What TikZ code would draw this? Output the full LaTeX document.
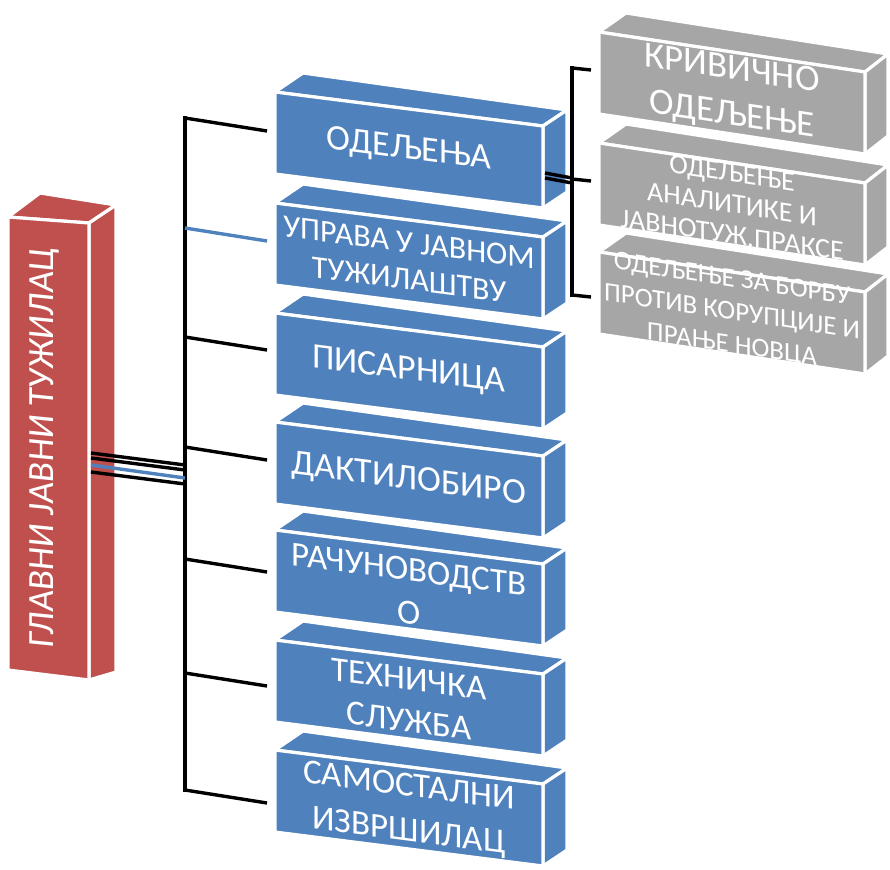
\documentclass[tikz,border=0pt]{standalone}
\usepackage{fontspec}
\setmainfont{Carlito}
\definecolor{cblue}{HTML}{4F81BD}
\definecolor{cred}{HTML}{C0504D}
\definecolor{cgray}{HTML}{A6A6A6}
\newcommand\bluecube[5]{%
\begin{scope}[shift={(0,#1)}]
 \path[face=cblue] (275,0) -- (303,-19) -- (567,18) -- (543,34) -- cycle;
 \path[face=cblue] (543,34) -- (567,18) -- (567,100) -- (543,116) -- cycle;
 \path[face=cblue] (275,0) -- (543,34) -- (543,116) -- (275,82) -- cycle;
 \node[btxt, font=#4] (#2) at (409,#5) {#3};
\end{scope}}
\newcommand\graycube[4]{%
\begin{scope}[shift={(0,#1)}]
 \path[face=cgray] (599,0) -- (626,-19) -- (888,22) -- (865,40) -- cycle;
 \path[face=cgray] (865,40) -- (888,22) -- (888,104) -- (865,122) -- cycle;
 \path[face=cgray] (599,0) -- (865,40) -- (865,122) -- (599,82) -- cycle;
 \node[gtxt, font=#4] (#2) at (732,61) {#3};
\end{scope}}
\begin{document}
\begin{tikzpicture}[x=1pt,y=-1pt,
  face/.style={fill=#1, draw=white, line width=3.2pt, line join=miter},
  btxt/.style={text=white, align=center, yslant=-0.13, inner sep=0pt},
  gtxt/.style={text=white, align=center, yslant=-0.15, inner sep=0pt},
  conn/.style={draw=black, line width=3.4pt},
  bconn/.style={draw=cblue, line width=3.4pt},
]
\useasboundingbox (0,0) rectangle (890,869);
% red box
\path[face=cred] (8,217) -- (40,193) -- (116,205) -- (89,223) -- cycle;
\path[face=cred] (89,223) -- (116,205) -- (116,672) -- (89,680) -- cycle;
\path[face=cred] (8,217) -- (89,223) -- (89,680) -- (8,670) -- cycle;
\node[text=white, font=\fontsize{37}{40}\selectfont, inner sep=0pt, yslant=-0.1, rotate=90] (chief) at (45,448) {ГЛАВНИ ЈАВНИ ТУЖИЛАЦ};
% blue column
\bluecube{92}{b1}{ОДЕЉЕЊА}{\fontsize{36}{40}\selectfont}{58}
\bluecube{203}{b2}{УПРАВА У ЈАВНОМ\\ТУЖИЛАШТВУ}{\fontsize{32}{37}\selectfont}{58}
\bluecube{313}{b3}{ПИСАРНИЦА}{\fontsize{36}{40}\selectfont}{58}
\bluecube{422}{b4}{ДАКТИЛОБИРО}{\fontsize{36}{40}\selectfont}{58}
\bluecube{530}{b5}{РАЧУНОВОДСТВ\\О}{\fontsize{35}{43}\selectfont}{61}
\bluecube{640}{b6}{ТЕХНИЧКА\\СЛУЖБА}{\fontsize{35}{42}\selectfont}{60}
\bluecube{750}{b7}{САМОСТАЛНИ\\ИЗВРШИЛАЦ}{\fontsize{35}{45}\selectfont}{60}
% gray column
\graycube{32}{g1}{КРИВИЧНО\\ОДЕЉЕЊЕ}{\fontsize{37}{46}\selectfont}
\graycube{143}{g2}{ОДЕЉЕЊЕ\\АНАЛИТИКЕ И\\ЈАВНОТУЖ.ПРАКСЕ}{\fontsize{28}{31}\selectfont}
\graycube{252}{g3}{ОДЕЉЕЊЕ ЗА БОРБУ\\ПРОТИВ КОРУПЦИЈЕ И\\ПРАЊЕ НОВЦА}{\fontsize{27}{33}\selectfont}
% coordinates
\coordinate (t0) at (185,118);
\coordinate (t1) at (185,228);
\coordinate (t2) at (185,337);
\coordinate (t3) at (185,447);
\coordinate (t4) at (185,559);
\coordinate (t5) at (185,673);
\coordinate (t6) at (185,790);
\coordinate (e0) at (267,131);
\coordinate (e1) at (267,241);
\coordinate (e2) at (267,350);
\coordinate (e3) at (267,460);
\coordinate (e4) at (267,572);
\coordinate (e5) at (267,686);
\coordinate (e6) at (267,803);
\coordinate (rA) at (91,453); \coordinate (hA) at (185,465);
\coordinate (rB) at (91,458); \coordinate (hB) at (185,470);
\coordinate (rC) at (91,465); \coordinate (hC) at (185,478);
\coordinate (rD) at (91,472); \coordinate (hD) at (185,484);
\coordinate (s0) at (572,68);
\coordinate (s1) at (572,179);
\coordinate (s2) at (572,295);
\coordinate (f0) at (591,70);
\coordinate (f1) at (591,181);
\coordinate (f2) at (591,297);
\coordinate (oA) at (545,173); \coordinate (qA) at (572,178);
\coordinate (oB) at (545,178); \coordinate (qB) at (572,183);
% connectors
\draw[conn, line cap=rect] (t0) -- (t6);
\draw[conn] (t0) -- (e0);
\draw[bconn] (t1) -- (e1);
\draw[conn] (t2) -- (e2);
\draw[conn] (t3) -- (e3);
\draw[conn] (t4) -- (e4);
\draw[conn] (t5) -- (e5);
\draw[conn] (t6) -- (e6);
\draw[conn] (rA) -- (hA);
\draw[conn] (rB) -- (hB);
\draw[bconn] (rC) -- (hC);
\draw[conn] (rD) -- (hD);
\draw[conn, line cap=rect] (s0) -- (s2);
\draw[conn] (s0) -- (f0);
\draw[conn] (s1) -- (f1);
\draw[conn] (s2) -- (f2);
\draw[conn] (oA) -- (qA);
\draw[conn] (oB) -- (qB);
\end{tikzpicture}
\end{document}
